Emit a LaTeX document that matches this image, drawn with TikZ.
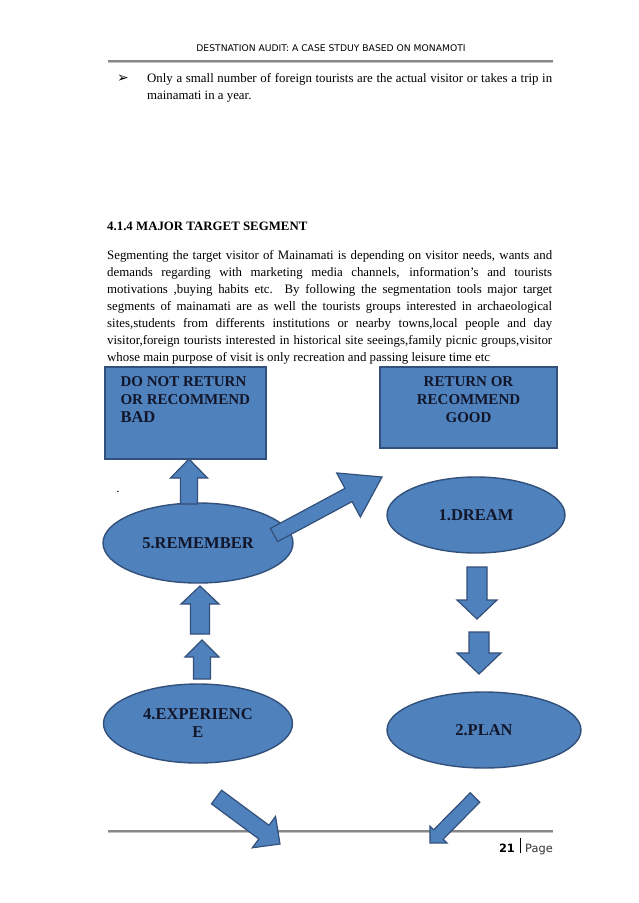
\documentclass[tikz,border=0pt]{standalone}
\usepackage{fontspec}
\setmainfont{Liberation Serif}
\newfontfamily\hdfont{DejaVu Sans}
\usetikzlibrary{positioning,calc,shapes.geometric}
\definecolor{shapeblue}{RGB}{79,129,189}
\definecolor{shapeedge}{RGB}{50,80,122}
\definecolor{shapetext}{RGB}{18,22,42}
\definecolor{rulegray}{RGB}{135,135,135}
\definecolor{rulelight}{RGB}{195,195,195}
\tikzset{
  bodytext/.style={anchor=base west, inner sep=0pt, font=\fontsize{12.86}{17}\selectfont, align=justify},
  outbox/.style={draw=shapeedge, line width=1.4pt, fill=shapeblue, inner sep=0pt},
  boxtxt/.style={inner sep=0pt, text=shapetext, font=\bfseries\fontsize{15}{18}\selectfont},
  stage/.style={ellipse, draw=shapeedge, line width=1.4pt, fill=shapeblue, inner sep=0pt, text=shapetext, font=\bfseries\fontsize{16.5}{18}\selectfont, align=center},
  barrow/.style={draw=shapeedge, line width=1.2pt, fill=shapeblue, line join=miter},
}
% block arrow: tail, tip, shaft half width, head half width, head length
\newcommand{\blockarrow}[5]{%
  \coordinate (hb) at ($(#2)!#5!(#1)$);
  \draw[barrow] ($(#1)!#3!90:(#2)$) -- ($(hb)!#3!-90:(#1)$) -- ($(hb)!#4!-90:(#1)$)
    -- (#2) -- ($(hb)!#4!90:(#1)$) -- ($(hb)!#3!90:(#1)$) -- ($(#1)!#3!-90:(#2)$) -- cycle;
}

\begin{document}
\begin{tikzpicture}[x=1pt,y=-1pt]
  \fill[white] (0,0) rectangle (638,903);
  \useasboundingbox (0,0) rectangle (638,903);
  % header
  \node[anchor=base, inner sep=0pt, font=\hdfont\fontsize{9.2}{11}\selectfont] (head) at (331,51) {DESTNATION AUDIT: A CASE STDUY BASED ON MONAMOTI};
  \draw[rulegray, line width=1.6pt] (108,61) -- (553,61);
  \draw[rulelight, line width=1.1pt] (108,62.9) -- (553,62.9);
  % text
  \node[anchor=base west, inner sep=0pt, font=\hdfont\fontsize{14}{14}\selectfont] (tick) at (117,82.5) {➢};
  \node[bodytext, text width=405pt] (note) at (147,82) {Only a small number of foreign tourists are the actual visitor or takes a trip in\linebreak mainamati in a year.};
  \node[bodytext, font=\bfseries\fontsize{12.86}{17}\selectfont] (sec) at (107,230) {4.1.4 MAJOR TARGET SEGMENT};
  \node[bodytext, text width=445pt] (para) at (107,259) {Segmenting the target visitor of Mainamati is depending on visitor needs, wants and\linebreak
    demands regarding with marketing media channels, information’s and tourists\linebreak
    motivations ,buying habits etc. By following the segmentation tools major target\linebreak
    segments of mainamati are as well the tourists groups interested in archaeological\linebreak
    sites,students from differents institutions or nearby towns,local people and day\linebreak
    visitor,foreign tourists interested in historical site seeings,family picnic groups,visitor\linebreak
    whose main purpose of visit is only recreation and passing leisure time etc};
  % outcome boxes
  \node[outbox, minimum width=161pt, minimum height=92pt,
    label={[boxtxt, align=left, anchor=north west, xshift=16pt, yshift=-10pt]north west:DO NOT RETURN\\OR RECOMMEND\\{\fontsize{16.5}{18}\selectfont BAD}}] (bad) at (185.5,413) {};
  \node[outbox, minimum width=177pt, minimum height=81pt,
    label={[boxtxt, align=center, anchor=north, yshift=-10pt]north:RETURN OR\\RECOMMEND\\GOOD}] (good) at (468.5,407.5) {};
  \node[inner sep=0pt, font=\fontsize{12.86}{17}\selectfont] (dot) at (118,492) {.};
  % stages
  \node[stage, minimum width=190pt, minimum height=80pt] (remember) at (198,543) {5.REMEMBER};
  \node[stage, minimum width=178pt, minimum height=76pt] (dream) at (476,515) {1.DREAM};
  \node[stage, minimum width=189pt, minimum height=79pt] (experience) at (198,723.5) {4.EXPERIENC\\E};
  \node[stage, minimum width=194pt, minimum height=76pt] (plan) at (484,730) {2.PLAN};
  % footer
  \draw[rulegray, line width=1.6pt] (108,831) -- (553,831);
  \draw[rulelight, line width=1.1pt] (108,832.9) -- (553,832.9);
  \node[anchor=base east, inner sep=0pt, font=\hdfont\fontsize{11.4}{13}\selectfont] (pageno) at (553,852) {\textbf{21}\hspace{5pt}\rule[-1pt]{1.3pt}{15pt}\hspace{4pt}{\color{black!80}Page}};
  % block arrows
  \coordinate (a1) at (189,504);   \coordinate (b1) at (189,459);
  \coordinate (a2) at (274,535);   \coordinate (b2) at (382,477);
  \coordinate (a3) at (477,567);   \coordinate (b3) at (477,619);
  \coordinate (a4) at (479,632);   \coordinate (b4) at (479,674);
  \coordinate (a5) at (202,679);   \coordinate (b5) at (202,640);
  \coordinate (a6) at (200,634);   \coordinate (b6) at (200,586);
  \coordinate (a7) at (216.5,797); \coordinate (b7) at (280,844);
  \coordinate (a8) at (475,797.5); \coordinate (b8) at (430,843);
  \foreach \s/\e/\w/\W/\h in {a1/b1/8.5pt/18.5pt/19pt, a2/b2/7.5pt/25pt/38pt,
      a3/b3/10pt/20pt/19pt, a4/b4/10pt/22pt/21pt, a5/b5/8.5pt/17pt/17pt,
      a6/b6/9.5pt/19pt/18pt, a7/b7/8.5pt/19.5pt/20pt, a8/b8/6.7pt/12pt/12pt}
    {\blockarrow{\s}{\e}{\w}{\W}{\h}}
\end{tikzpicture}
\end{document}
